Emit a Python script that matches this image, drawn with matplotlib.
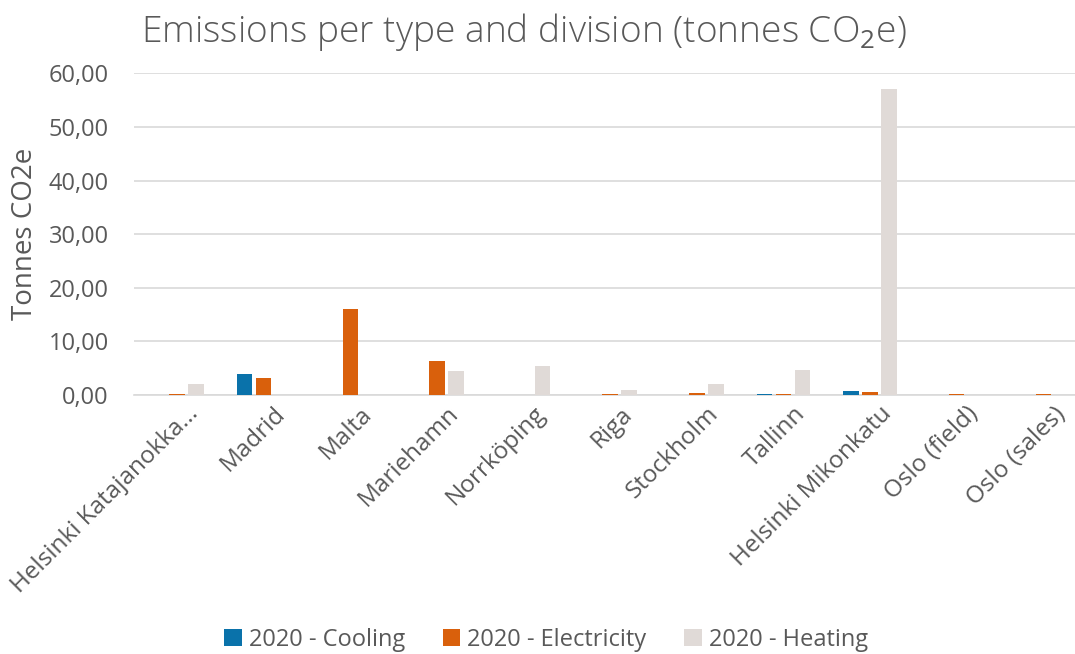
import numpy as np
import matplotlib
matplotlib.use("Agg")
import matplotlib.pyplot as plt
from matplotlib.ticker import FuncFormatter
import matplotlib.transforms as mtransforms

plt.rcParams['font.family'] = ['Open Sans', 'DejaVu Sans']
plt.rcParams['mathtext.fontset'] = 'custom'
plt.rcParams['mathtext.rm'] = 'Open Sans'

divisions = ['Helsinki Katajanokka...', 'Madrid', 'Malta', 'Mariehamn', 'Norrköping',
             'Riga', 'Stockholm', 'Tallinn', 'Helsinki Mikonkatu', 'Oslo (field)', 'Oslo (sales)']
cooling = [0.0, 3.9, 0.0, 0.0, 0.0, 0.0, 0.0, 0.15, 0.8, 0.0, 0.0]
electricity = [0.1, 3.1, 16.0, 6.3, 0.0, 0.2, 0.3, 0.2, 0.6, 0.1, 0.1]
heating = [2.0, 0.0, 0.0, 4.4, 5.4, 1.0, 2.0, 4.7, 57.0, 0.0, 0.0]
series_names = ['2020 - Cooling', '2020 - Electricity', '2020 - Heating']
colors = ['#0a72aa', '#d9600c', '#e0dad7']

gray = '#595959'
fig = plt.figure(figsize=(10.75, 6.54), dpi=100)
# plot area runs a little past the right edge of the canvas
ax = fig.add_axes([0.1243, 0.396, 0.8866, 0.492])

x = np.arange(len(divisions))
w = 0.178
step = 0.219
for i, (vals, name, c) in enumerate(zip([cooling, electricity, heating], series_names, colors)):
    ax.bar(x + (i - 1) * step, vals, width=w, color=c, label=name, zorder=3)

ax.set_xlim(-0.5, len(divisions) - 0.5)
ax.set_ylim(0, 60)
ax.set_yticks(np.arange(0, 61, 10))
ax.yaxis.set_major_formatter(FuncFormatter(lambda v, p: f'{v:.2f}'.replace('.', ',')))
ax.grid(axis='y', color='#d9d9d9', linewidth=1.2, zorder=0)
for s in ['top', 'right', 'left']:
    ax.spines[s].set_visible(False)
ax.spines['bottom'].set_color('#d9d9d9')
ax.spines['bottom'].set_linewidth(1.2)
ax.tick_params(axis='both', length=0, colors=gray, labelsize=17)
ax.tick_params(axis='y', pad=18)
ax.set_xticks(x)
ax.set_xticklabels(divisions, rotation=45, ha='right', rotation_mode='anchor', fontsize=17.5)
ax.tick_params(axis='x', pad=5)
# shift rotated labels slightly right so their ends sit beside the group
shift = mtransforms.ScaledTranslation(7 / 72, 0, fig.dpi_scale_trans)
for lbl in ax.get_xticklabels():
    lbl.set_transform(lbl.get_transform() + shift)
ax.set_ylabel('Tonnes CO2e', color=gray, fontsize=20, labelpad=7)

fig.text(0.487, 0.951, 'Emissions per type and division (tonnes CO$_2$e)', ha='center', va='center',
         fontsize=26.7, color=gray, fontweight='light')

fig.legend(loc='center', bbox_to_anchor=(0.508, 0.022), ncol=3, frameon=False, fontsize=17,
           labelcolor=gray, handlelength=0.75, handleheight=0.75, handletextpad=0.3, columnspacing=1.6)

fig.savefig('out.png', dpi=100)
